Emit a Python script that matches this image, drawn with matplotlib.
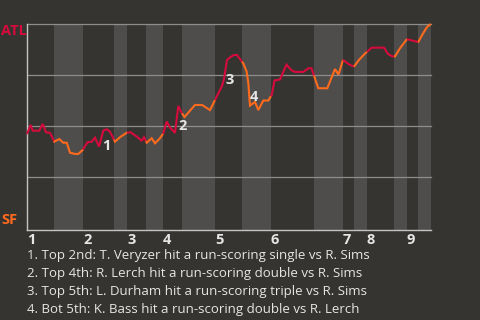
import numpy as np
import matplotlib
matplotlib.use("Agg")
import matplotlib.pyplot as plt

# ---------------- data ----------------
plays = [0, 0.87, 1.34, 2.89, 3.69, 4.47, 5.41, 6.42, 7.6, 8.54, 9.34, 10.12, 11.29, 12.07,
         13.1, 14.19, 15.22, 16.0, 16.94, 17.95, 18.75, 19.53, 20.71, 21.88, 23.46, 24.4,
         25.81, 26.99, 27.53, 28.16, 29.34, 30.12, 31.29, 32.07, 32.87, 33.65, 34.82, 35.6,
         36.4, 37.06, 39.53, 41.18, 43.06, 44.24, 45.88, 46.35, 47.06, 47.76, 48.71, 49.41,
         50.12, 50.89, 51.69, 52.07, 52.47, 53.65, 54.42, 55.6, 56.78, 57.58, 58.24, 59.53,
         61.06, 62.12, 63.06, 65.01, 66.24, 66.94, 68.54, 70.66, 72.47, 73.29, 74.35, 75.88,
         76.94, 78.12, 79.53, 81.11, 84.0, 84.94, 86.0, 86.59, 87.76, 89.41, 90.82, 92.07,
         93.25, 94.19, 95.06]
atl_wp = [46.1, 50.5, 47.7, 47.7, 51.0, 46.9, 46.7, 42.3, 43.6, 41.8, 41.8, 36.9, 36.3, 36.3,
          38.2, 42.0, 42.3, 44.3, 39.9, 47.7, 48.4, 47.2, 42.3, 44.5, 46.7, 46.9,
          44.8, 42.8, 44.5, 41.8, 44.0, 41.5, 44.0, 46.4, 52.2, 49.3, 46.6, 59.8,
          56.4, 54.4, 60.3, 60.3, 57.8, 62.7, 69.6, 73.0, 82.4, 83.6, 84.8, 84.8,
          82.8, 80.7, 76.6, 71.1, 60.0, 61.8, 57.8, 62.5, 62.5, 65.2, 72.3, 72.8,
          80.1, 77.5, 76.5, 76.5, 78.3, 78.3, 68.5, 68.5, 77.9, 75.2, 82.4, 80.1,
          79.1, 82.4, 85.5, 88.4, 88.4, 85.3, 84.1, 84.1, 88.1, 92.6, 91.8, 91.2,
          95.6, 98.7, 100.0]

half_inning_starts = [0, 6.35, 13.18, 20.47, 23.53, 28.0, 32.0, 36.47, 44.24, 50.59,
                      57.41, 67.53, 74.35, 76.94, 80.0, 86.35, 89.41, 92.0]
game_end = 95.06
inning_labels = ["1", "2", "3", "4", "5", "6", "7", "8", "9"]

event_play_idx = [19, 37, 46, 54]
event_labels = ["1", "2", "3", "4"]
event_notes = [
    "1. Top 2nd: T. Veryzer hit a run-scoring single vs R. Sims",
    "2. Top 4th: R. Lerch hit a run-scoring double vs R. Sims",
    "3. Top 5th: L. Durham hit a run-scoring triple vs R. Sims",
    "4. Bot 5th: K. Bass hit a run-scoring double vs R. Lerch",
]
team_top = "ATL"
team_bottom = "SF"

# ---------------- style ----------------
BG = "#363430"
BAND = "#4e4d4b"
RED = "#d60a3c"
ORANGE = "#ff6a1c"
GRID = "#8e8d8b"
AXIS = "#c4c4c4"
TXT = "#e6e6e6"
FONT = ["Open Sans", "DejaVu Sans"]
plt.rcParams["font.family"] = FONT

W, H = 480, 320
fig = plt.figure(figsize=(4.8, 3.2), dpi=100, facecolor=BG)
ax = fig.add_axes([27 / W, 1 - 230 / H, 404 / W, 206 / H])
ax.set_facecolor(BG)
ax.set_xlim(0, game_end)
ax.set_ylim(-1, 100)

bounds = half_inning_starts + [game_end]
# bands: bottom halves lighter
for k in range(len(half_inning_starts)):
    if k % 2 == 1:
        ax.axvspan(bounds[k], bounds[k + 1], color=BAND, lw=0, zorder=0)

for g in [25, 50, 75, 100]:
    ax.axhline(g, color=GRID, lw=0.9, zorder=1, clip_on=False)

x = np.array(plays)
y = np.array(atl_wp)
for k in range(len(half_inning_starts)):
    a, b = bounds[k], bounds[k + 1]
    inside = x[(x > a) & (x < b)]
    xs = np.concatenate([[a], inside, [b]])
    ys = np.interp(xs, x, y)
    ax.plot(xs, ys, color=RED if k % 2 == 0 else ORANGE, lw=1.5, zorder=3,
            solid_capstyle="butt", solid_joinstyle="miter", clip_on=False)

for s in ["top", "right"]:
    ax.spines[s].set_visible(False)
ax.spines["left"].set_color(AXIS)
ax.spines["bottom"].set_color(AXIS)
ax.spines["left"].set_linewidth(1.0)
ax.spines["bottom"].set_linewidth(1.0)
ax.set_xticks([])
ax.set_yticks([])

# inning labels
for lab, k in zip(inning_labels, range(0, 18, 2)):
    ax.annotate(lab, xy=(bounds[k], -1), xytext=(0, -3), textcoords="offset pixels",
                ha="left", va="top", fontsize=10.5, fontweight="bold", color=TXT)

# event labels
offsets = [(3, -15), (4, -20), (3, -20), (4, 9)]
for idx, lab, off in zip(event_play_idx, event_labels, offsets):
    ax.annotate(lab, xy=(x[idx], y[idx]), xytext=off, textcoords="offset pixels",
                ha="center", va="center", fontsize=10.5, fontweight="bold", color=TXT, zorder=5)

# team labels
fig.text(1 / W, 1 - 31 / H, team_top, ha="left", va="center", fontsize=10.5,
         fontweight="bold", color=RED)
fig.text(1 / W, 1 - 220 / H, team_bottom, ha="left", va="center", fontsize=10.5,
         fontweight="bold", color=ORANGE)

for i, note in enumerate(event_notes):
    fig.text(27 / W, 1 - (259 + 18 * i) / H, note, ha="left", va="baseline",
             fontsize=9.5, color=TXT)

fig.savefig("out.png", dpi=100, facecolor=BG)
